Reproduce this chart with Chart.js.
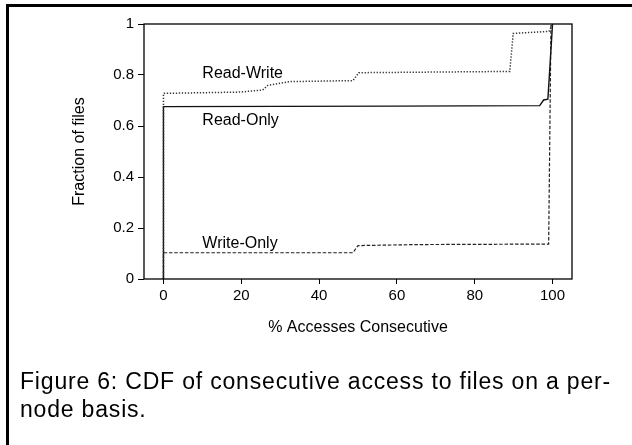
<!DOCTYPE html>
<html><head><meta charset="utf-8">
<script src="https://cdn.jsdelivr.net/npm/chart.js@4.4.1/dist/chart.umd.min.js"></script>
<style>
html,body{margin:0;padding:0;background:#fff;width:632px;height:445px;overflow:hidden;}
#wrap{position:relative;width:632px;height:445px;}
canvas{position:absolute;left:0;top:0;width:632px;height:445px;}
.bt{position:absolute;left:6px;top:4px;right:0;height:3px;background:#000;}
.bl{position:absolute;left:6px;top:4px;bottom:0;width:3px;background:#000;}
.cap{position:absolute;left:20px;font-family:"Liberation Sans",Arial,sans-serif;font-size:23px;line-height:28px;color:#000;white-space:nowrap;}
</style></head><body>
<div id="wrap">
<canvas id="c" width="632" height="445"></canvas>
<div class="bt"></div><div class="bl"></div>
<div class="cap" id="cap1" style="top:367px">Figure 6: CDF of consecutive access to files on a per-</div>
<div class="cap" id="cap2" style="top:395px">node basis.</div>
</div>
<script>
// ---- data ----
const readOnlyX  = [0, 0, 60, 96.7, 97.7, 98.8, 100];
const readOnlyY  = [0, 0.676, 0.678, 0.68, 0.702, 0.705, 1];
const readWriteX = [0, 0, 19.6, 25.5, 26.8, 32.4, 48.7, 50.2, 89.0, 89.9, 99.1, 100];
const readWriteY = [0, 0.728, 0.733, 0.741, 0.759, 0.774, 0.778, 0.809, 0.814, 0.963, 0.971, 1];
const writeOnlyX = [0, 0, 48.7, 50.0, 65.0, 99.0, 99.6];
const writeOnlyY = [0, 0.103, 0.103, 0.131, 0.135, 0.137, 1];
const xTicks = [0, 20, 40, 60, 80, 100];
const yTicks = [0, 0.2, 0.4, 0.6, 0.8, 1];
const seriesNames = ['Read-Write', 'Read-Only', 'Write-Only'];
const labelX = [10, 10, 10];
const labelY = [0.79, 0.604, 0.12];

const pts = (xs, ys) => xs.map((x, i) => ({x: x, y: ys[i]}));
const FONT = '"Liberation Sans", Arial, Helvetica, sans-serif';

const framePlugin = {
  id: 'frame',
  afterDraw(chart) {
    const {ctx, chartArea: a, scales} = chart;
    ctx.save();
    ctx.strokeStyle = '#000';
    ctx.lineWidth = 1.3;
    ctx.strokeRect(a.left, a.top, a.right - a.left, a.bottom - a.top);
    ctx.fillStyle = '#000';
    ctx.font = '16px ' + FONT;
    ctx.textBaseline = 'alphabetic';
    ctx.textAlign = 'left';
    seriesNames.forEach((t, i) => {
      ctx.fillText(t, scales.x.getPixelForValue(labelX[i]), scales.y.getPixelForValue(labelY[i]));
    });
    ctx.restore();
  }
};

new Chart(document.getElementById('c'), {
  type: 'scatter',
  data: {
    datasets: [
      {label: seriesNames[0], data: pts(readWriteX, readWriteY), showLine: true, borderColor: '#333', borderWidth: 1.5, borderDash: [1.3, 1.7], pointRadius: 0, tension: 0, fill: false},
      {label: seriesNames[1], data: pts(readOnlyX, readOnlyY), showLine: true, borderColor: '#111', borderWidth: 1.4, pointRadius: 0, tension: 0, fill: false},
      {label: seriesNames[2], data: pts(writeOnlyX, writeOnlyY), showLine: true, borderColor: '#222', borderWidth: 1.2, borderDash: [3.5, 1.8], pointRadius: 0, tension: 0, fill: false}
    ]
  },
  options: {
    responsive: false,
    animation: false,
    devicePixelRatio: 1,
    layout: {padding: {left: 70, top: 24, right: 60, bottom: 108}},
    plugins: {legend: {display: false}, tooltip: {enabled: false}},
    scales: {
      x: {
        type: 'linear', min: -5, max: 105,
        afterBuildTicks: s => { s.ticks = xTicks.map(v => ({value: v})); },
        afterFit: s => { s.height = 58; },
        border: {display: false},
        grid: {drawOnChartArea: false, drawTicks: true, tickLength: 5, color: '#000', lineWidth: 1},
        ticks: {color: '#000', font: {family: FONT, size: 15}, padding: 3, maxRotation: 0, callback: v => String(v)},
        title: {display: true, text: '% Accesses Consecutive', color: '#000', font: {family: FONT, size: 16}, padding: 0}
      },
      y: {
        type: 'linear', min: 0, max: 1,
        afterBuildTicks: s => { s.ticks = yTicks.map(v => ({value: v})); },
        afterFit: s => { s.width = 74; },
        border: {display: false},
        grid: {drawOnChartArea: false, drawTicks: true, tickLength: 6, color: '#000', lineWidth: 1},
        ticks: {color: '#000', font: {family: FONT, size: 15}, padding: 4, callback: v => String(v)},
        title: {display: true, text: 'Fraction of files', color: '#000', font: {family: FONT, size: 16}, padding: 0}
      }
    }
  },
  plugins: [framePlugin]
});

// fit caption line 1 to the reference's width
(function () {
  const c1 = document.getElementById('cap1'), c2 = document.getElementById('cap2');
  const w = c1.getBoundingClientRect().width;
  const n = c1.textContent.length;
  const ls = (591 - w) / n;
  c1.style.letterSpacing = ls + 'px';
  c2.style.letterSpacing = ls + 'px';
})();
</script>
</body></html>
